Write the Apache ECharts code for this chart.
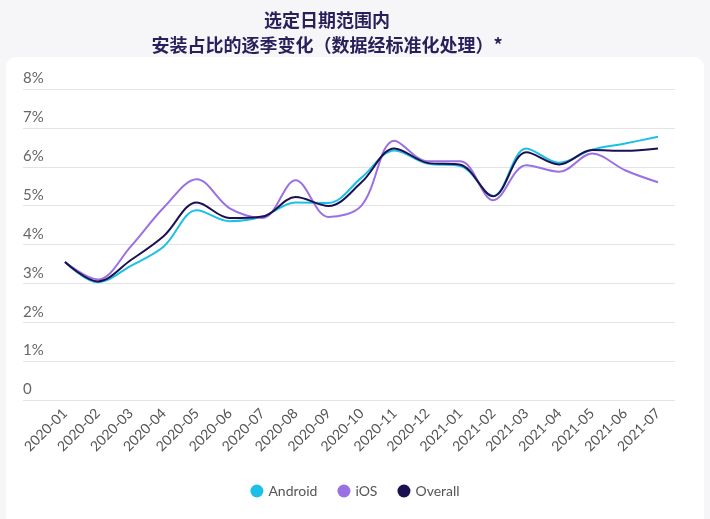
<!DOCTYPE html>
<html>
<head>
<meta charset="utf-8">
<script src="https://cdn.jsdelivr.net/npm/echarts@6/dist/echarts.min.js"></script>
<style>
html,body{margin:0;padding:0;background:#f6f6f9;}
#chart{width:710px;height:519px;}
</style>
</head>
<body>
<div id="chart"></div>
<script>
var categories = ['2020-01','2020-02','2020-03','2020-04','2020-05','2020-06','2020-07','2020-08','2020-09','2020-10','2020-11','2020-12','2021-01','2021-02','2021-03','2021-04','2021-05','2021-06','2021-07'];
var android = [3.55,3.03,3.45,3.95,4.88,4.6,4.72,5.08,5.07,5.72,6.42,6.08,6.02,5.25,6.47,6.1,6.44,6.6,6.77];
var ios     = [3.55,3.1,3.95,4.95,5.68,4.93,4.68,5.65,4.71,5.0,6.67,6.14,6.14,5.14,6.04,5.87,6.34,5.91,5.6];
var overall = [3.55,3.05,3.6,4.22,5.08,4.68,4.72,5.22,4.99,5.6,6.47,6.1,6.05,5.24,6.37,6.06,6.43,6.41,6.47];
var yTickLabels = ['0','1%','2%','3%','4%','5%','6%','7%','8%'];
var seriesNames = ['Android','iOS','Overall'];
var colors = ['#1cc0e6','#9a70e3','#1b1050'];

var chart = echarts.init(document.getElementById('chart'), null, {renderer:'canvas'});
var font = 'Lato, "Open Sans", sans-serif';
var option = {
  backgroundColor: '#f6f6f9',
  animation: false,
  graphic: [{
    type: 'rect', silent: true, z: -10,
    shape: {x: 6, y: 57, width: 698, height: 480, r: 10},
    style: {fill: '#ffffff'}
  }],
  title: {
    text: '选定日期范围内\n安装占比的逐季变化（数据经标准化处理）*',
    left: 322, top: 3, textAlign: 'center',
    textStyle: {fontFamily: '"Noto Sans CJK SC", sans-serif', fontSize: 18, fontWeight: 'bold', color: '#2a1f5a', lineHeight: 25}
  },
  legend: {
    bottom: 16, left: 'center',
    icon: 'circle', itemWidth: 13, itemHeight: 13, itemGap: 20,
    textStyle: {fontFamily: font, fontSize: 14, color: '#555'},
    data: seriesNames
  },
  grid: [
    {left: 23, right: 35, top: 89, bottom: 119},
    {left: 48.5, right: 35.5, top: 89, bottom: 119}
  ],
  xAxis: [
    {gridIndex: 0, type: 'category', data: categories, show: false},
    {gridIndex: 1, type: 'category', data: categories, boundaryGap: true,
     axisLine: {show: false}, axisTick: {show: false},
     axisLabel: {rotate: 45, interval: 0, margin: 11, fontFamily: font, fontSize: 14, color: '#555'}}
  ],
  yAxis: [
    {gridIndex: 0, type: 'value', min: 0, max: 8, interval: 1,
     axisLine: {show: false}, axisTick: {show: false},
     splitLine: {lineStyle: {color: '#e4e4e8', width: 1}},
     axisLabel: {inside: true, margin: 0, verticalAlign: 'bottom', align: 'left', padding: [0,0,3,0],
       fontFamily: font, fontSize: 15, color: '#666',
       formatter: function(v){ return yTickLabels[Math.round(v)]; }}},
    {gridIndex: 1, type: 'value', min: 0, max: 8, interval: 1, show: false}
  ],
  series: [
    {name: seriesNames[0], type: 'line', xAxisIndex: 1, yAxisIndex: 1, data: android, smooth: 0.35, showSymbol: false, lineStyle: {width: 2, color: colors[0]}, itemStyle: {color: colors[0]}, z: 2},
    {name: seriesNames[1], type: 'line', xAxisIndex: 1, yAxisIndex: 1, data: ios, smooth: 0.35, showSymbol: false, lineStyle: {width: 2, color: colors[1]}, itemStyle: {color: colors[1]}, z: 3},
    {name: seriesNames[2], type: 'line', xAxisIndex: 1, yAxisIndex: 1, data: overall, smooth: 0.35, showSymbol: false, lineStyle: {width: 2, color: colors[2]}, itemStyle: {color: colors[2]}, z: 4}
  ]
};
chart.setOption(option);
</script>
</body>
</html>
